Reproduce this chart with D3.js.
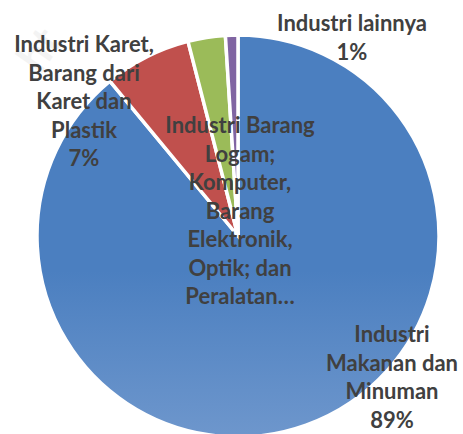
<!DOCTYPE html>
<html>
<head>
<meta charset="utf-8">
<script src="https://cdn.jsdelivr.net/npm/d3@7"></script>
<style>
  body { margin: 0; background: #fff; }
  #chart { width: 463px; height: 434px; }
  .charts__label { font-family: Lato, "Open Sans", sans-serif; font-weight: bold; fill: #404040; }
</style>
</head>
<body>
<div id="chart"></div>
<script>
// data
const categories = [
    "Industri Makanan dan Minuman",
    "Industri Karet, Barang dari Karet dan Plastik",
    "Industri Barang Logam; Komputer, Barang Elektronik, Optik; dan Peralatan…",
    "Industri lainnya"
];
const shares = [89, 7, 3, 1];
const labelLines = [
    ["Industri", "Makanan dan", "Minuman", "89%"],
    ["Industri Karet,", "Barang dari", "Karet dan", "Plastik", "7%"],
    ["Industri Barang", "Logam;", "Komputer,", "Barang", "Elektronik,", "Optik; dan", "Peralatan…"],
    ["Industri lainnya", "1%"]
];
const colorsTop = ["#4b7fc0", "#c0504d", "#9bbb59", "#8064a2"];
const colorsBottom = ["#9fb8de", "#e39a97", "#c9dd9c", "#ab94c6"];

const parent = document.getElementById("chart"),
      svg = d3.select(parent).append("svg"),
      svgWidth = 463,
      svgHeight = 434;

svg.attr("width", svgWidth).attr("height", svgHeight);

// faint watermark
svg.append("text")
    .attr("transform", "translate(40,75) rotate(-55)")
    .attr("font-family", "Lato, sans-serif")
    .attr("font-weight", "bold")
    .attr("font-size", 44)
    .attr("fill", "#f3f3f3")
    .text("ht");

const cx = 238, cy = 236, radius = 201;

const defs = svg.append("defs");
shares.forEach((d, i) => {
    const grad = defs.append("linearGradient")
        .attr("id", "grad" + i)
        .attr("gradientUnits", "userSpaceOnUse")
        .attr("x1", 0).attr("y1", cy - radius)
        .attr("x2", 0).attr("y2", cy + radius);
    grad.append("stop").attr("offset", "0%").attr("stop-color", colorsTop[i]);
    grad.append("stop").attr("offset", "100%").attr("stop-color", colorsBottom[i]);
});

const g = svg.append("g")
    .attr("transform", "translate(" + cx + "," + cy + ")");

const pie = d3.pie().sort(null).value(d => d);
const arc = d3.arc().innerRadius(0).outerRadius(radius);

g.append("g")
    .attr("class", "charts__data")
    .selectAll("path")
    .data(pie(shares))
    .join("path")
        .attr("d", arc)
        .attr("fill", (d, i) => "url(#grad" + i + ")")
        .attr("stroke", "#fff")
        .attr("stroke-width", 3.5)
        .attr("stroke-linejoin", "miter");

// data labels (anchor = centre x, first baseline y)
const labelPos = [[392, 342], [84, 52], [240, 133], [352, 31]];
const lineHeight = 28.5;

labelLines.forEach((lines, i) => {
    const t = svg.append("text")
        .attr("class", "charts__label")
        .attr("text-anchor", "middle")
        .attr("font-size", 22)
        .attr("x", labelPos[i][0])
        .attr("y", labelPos[i][1]);
    lines.forEach((s, j) => {
        t.append("tspan")
            .attr("x", labelPos[i][0])
            .attr("dy", j === 0 ? 0 : lineHeight)
            .text(s);
    });
});
</script>
</body>
</html>
